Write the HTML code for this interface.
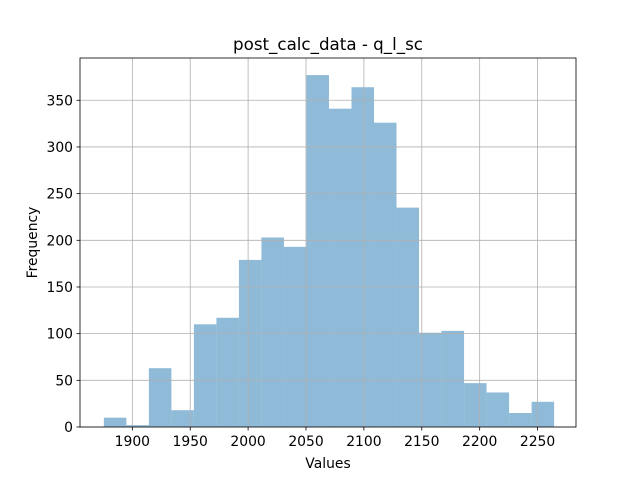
<!DOCTYPE html>
<html><head><meta charset="utf-8"><style>
body{margin:0;background:#fff}
text{font-family:"DejaVu Sans","Liberation Sans",sans-serif;fill:#000}
</style></head><body>
<svg id="chart" width="640" height="480" xmlns="http://www.w3.org/2000/svg">
<rect width="640" height="480" fill="#fff"/>
<g id="bars"></g>
<g id="grid"></g>
<g id="axes"></g>
<text x="328" y="50" text-anchor="middle" font-size="16.7">post_calc_data - q_l_sc</text>
<text x="328" y="468" text-anchor="middle" font-size="13.9">Values</text>
<text transform="translate(37,242.5) rotate(-90)" text-anchor="middle" font-size="13.9">Frequency</text>
</svg>
<script>
const binStart = 1875.4;
const binWidth = 19.445;
const counts = [10,2,63,18,110,117,179,203,193,377,341,364,326,235,101,103,47,37,15,27];
const xTicks = [1900,1950,2000,2050,2100,2150,2200,2250];
const yTicks = [0,50,100,150,200,250,300,350];

const L=80,R=576,T=58,B=427;
const xMin=1854.8,xMax=2283.2,yMax=395.3;
const xs=v=>L+(v-xMin)/(xMax-xMin)*(R-L);
const ys=v=>B-v/yMax*(B-T);
const NS="http://www.w3.org/2000/svg";
function mk(t,a,p){const e=document.createElementNS(NS,t);for(const k in a)e.setAttribute(k,a[k]);p.appendChild(e);return e;}
const grid=document.getElementById('grid'),bars=document.getElementById('bars'),axes=document.getElementById('axes');
xTicks.forEach(v=>{
  const x=xs(v);
  const g=mk('line',{x1:x,x2:x,y1:T,y2:B,stroke:'#b0b0b0','stroke-width':0.8},grid);
  
  
  mk('line',{x1:x,x2:x,y1:B,y2:B+3.5,stroke:'#000','stroke-width':0.8},axes);
  const t=mk('text',{x:x,y:B+19,'text-anchor':'middle','font-size':13.9},axes);
  t.textContent=v;
  
  
});
yTicks.forEach(v=>{
  const y=ys(v);
  const g=mk('line',{x1:L,x2:R,y1:y,y2:y,stroke:'#b0b0b0','stroke-width':0.8},grid);
  
  
  mk('line',{x1:L-3.5,x2:L,y1:y,y2:y,stroke:'#000','stroke-width':0.8},axes);
  const t=mk('text',{x:L-7,y:y+5,'text-anchor':'end','font-size':13.9},axes);
  t.textContent=v;
  
  
});
counts.forEach((c,i)=>{
  const x0=xs(binStart+i*binWidth),x1=xs(binStart+(i+1)*binWidth);
  const r=mk('rect',{x:x0,y:ys(c),width:x1-x0,height:B-ys(c),fill:'#8fbbd9'},bars);
  
  
});
const f=mk('rect',{x:L,y:T,width:R-L,height:B-T,fill:'none',stroke:'#000','stroke-width':0.8},axes);


</script>
</body></html>
